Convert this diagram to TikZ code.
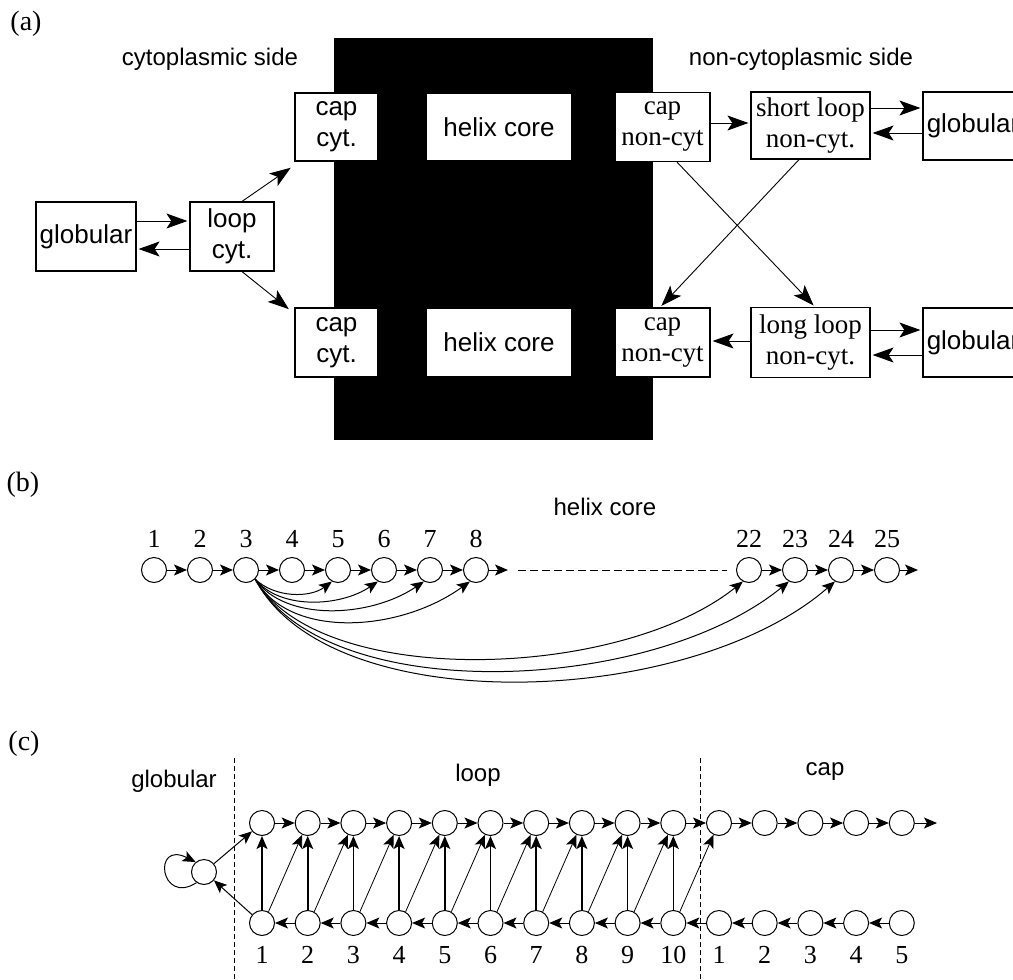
\documentclass[tikz,border=0pt]{standalone}
\usepackage{fontspec}
\setmainfont{Liberation Serif}
\setsansfont{Liberation Sans}
\usetikzlibrary{arrows.meta}
\newcommand{\hmmSans}{\fontsize{26}{31}\selectfont\sffamily}
\newcommand{\hmmSerif}{\fontsize{27}{31}\selectfont\rmfamily}

\begin{document}
\begin{tikzpicture}[x=1pt,y=-1pt,
  statebox/.style={draw, line width=1.2pt, fill=white, inner sep=0pt, align=center},
  bigtip/.style={-{Stealth[length=21pt,width=15pt,inset=5pt]}, line width=0.9pt, shorten >=2pt},
  smalltip/.style={-{Stealth[length=13pt,width=11pt,inset=3pt]}, line width=1pt},
  res/.style={circle, draw, line width=1pt, minimum size=25pt, inner sep=0pt},
  lbl/.style={anchor=base, inner sep=0pt, font=\fontsize{24}{28}\selectfont\sffamily},
  num/.style={anchor=base, inner sep=0pt, font=\fontsize{26}{28}\selectfont}]
\useasboundingbox (0,0) rectangle (1013,980);
\clip (0,0) rectangle (1013,980);
\node[num, font=\fontsize{28}{30}\selectfont] (pa) at (26,30) {(a)};
\node[lbl] (cytside) at (210,65) {cytoplasmic side};
\node[lbl] (noncytside) at (801,65) {non-cytoplasmic side};
\fill (334,38) rectangle (653,440);
\node[statebox, font=\hmmSans, minimum width=100pt, minimum height=69pt] (globL) at (86,236.5) {globular};
\node[statebox, font=\hmmSans, minimum width=84pt, minimum height=69pt] (loopc) at (232,236.5) {loop\\cyt.};
\node[statebox, font=\hmmSans, minimum width=83pt, minimum height=68pt] (capcT) at (336.5,127) {cap\\cyt.};
\node[statebox, font=\hmmSans, minimum width=146pt, minimum height=68pt] (helixT) at (499,127) {helix core};
\node[statebox, font=\hmmSerif, minimum width=95pt, minimum height=69pt] (capnT) at (662.5,127) {cap\\non-cyt};
\node[statebox, font=\hmmSerif, minimum width=119pt, minimum height=67pt] (shortT) at (810.5,125.5) {short loop\\non-cyt.};
\node[statebox, font=\hmmSans, minimum width=100pt, minimum height=68pt] (globRT) at (973,126) {globular};
\node[statebox, font=\hmmSans, minimum width=83pt, minimum height=69pt] (capcB) at (336.5,342.5) {cap\\cyt.};
\node[statebox, font=\hmmSans, minimum width=146pt, minimum height=69pt] (helixB) at (499,342.5) {helix core};
\node[statebox, font=\hmmSerif, minimum width=95pt, minimum height=69pt] (capnB) at (662.5,342.5) {cap\\non-cyt};
\node[statebox, font=\hmmSerif, minimum width=119pt, minimum height=70pt] (longB) at (810.5,342.5) {long loop\\non-cyt.};
\node[statebox, font=\hmmSans, minimum width=100pt, minimum height=69pt] (globRB) at (973,342.5) {globular};
\draw[bigtip] ([yshift=15.5pt]globL.east) -- ([yshift=15.5pt]globL.east -| loopc.west);
\draw[bigtip] ([yshift=-12.5pt]loopc.west) -- ([yshift=-12.5pt]loopc.west -| globL.east);
\draw[bigtip] ([xshift=10pt]loopc.north) -- ([shift={(-2pt,-5pt)}]capcT.south west);
\draw[bigtip] ([xshift=10pt]loopc.south) -- ([shift={(-4pt,-3pt)}]capcB.north west);
\draw[bigtip] ([yshift=4pt]capnT.east) -- ([yshift=4pt]capnT.east -| shortT.west);
\draw[bigtip] ([yshift=17.5pt]shortT.east) -- ([yshift=17.5pt]shortT.east -| globRT.west);
\draw[bigtip] ([yshift=-7pt]globRT.west) -- ([yshift=-7pt]globRT.west -| shortT.east);
\draw[bigtip] ([yshift=1.5pt]longB.west) -- ([yshift=1.5pt]longB.west -| capnB.east);
\draw[bigtip] ([yshift=12.5pt]longB.east) -- ([yshift=12.5pt]longB.east -| globRB.west);
\draw[bigtip] ([yshift=-12.5pt]globRB.west) -- ([yshift=-12.5pt]globRB.west -| longB.east);
\draw[bigtip] ([xshift=14.5pt]capnT.south) -- ([xshift=4.5pt]longB.north);
\draw[bigtip] ([xshift=-11.5pt]shortT.south) -- ([xshift=-2.5pt]capnB.north);
\node[num, font=\fontsize{28}{30}\selectfont] (pb) at (23,491) {(b)};
\node[lbl] (helixlbl) at (605,515) {helix core};
\foreach \n/\x in {1/154,2/200,3/246,4/292,5/338,6/384,7/430,8/476,22/749,23/795,24/841,25/887}{
  \node[res] (h\n) at (\x,570) {};
  \node[num] (hl\n) at (\x,547) {\n};
}
\foreach \a/\b in {1/2,2/3,3/4,4/5,5/6,6/7,7/8,22/23,23/24,24/25}
  \draw[smalltip] (h\a) -- (h\b);
\coordinate (hout8) at (508,570);
\coordinate (hout25) at (918,570);
\coordinate (gapL) at (518,570);
\coordinate (gapR) at (727,570);
\draw[smalltip] (h8) -- (hout8);
\draw[smalltip] (h25) -- (hout25);
\draw[line width=1pt, dash pattern=on 8pt off 4pt] (gapL) -- (gapR);
\draw[smalltip] (h3.-45) .. controls (275,598) and (310,598) .. (h5.-118);
\draw[smalltip] (h3.-45) .. controls (280,610) and (340,607) .. (h6.-118);
\draw[smalltip] (h3.-45) .. controls (285,622) and (370,618) .. (h7.-118);
\draw[smalltip] (h3.-45) .. controls (290,640) and (400,632) .. (h8.-118);
\draw[smalltip] (h3.-45) .. controls (320,690) and (620,680) .. (h22.-118);
\draw[smalltip] (h3.-45) .. controls (325,707) and (650,695) .. (h23.-118);
\draw[smalltip] (h3.-45) .. controls (330,722) and (690,708) .. (h24.-118);
\node[num, font=\fontsize{28}{30}\selectfont] (pc) at (24,750) {(c)};
\node[lbl] (globlbl) at (174,787) {globular};
\node[lbl] (looplbl) at (478,781) {loop};
\node[lbl] (caplbl) at (825,775) {cap};
\coordinate (sepA1) at (234,758);
\coordinate (sepA2) at (234,980);
\coordinate (sepB1) at (700,758);
\coordinate (sepB2) at (700,980);
\draw[line width=1pt, dash pattern=on 5pt off 3pt] (sepA1) -- (sepA2);
\draw[line width=1pt, dash pattern=on 5pt off 3pt] (sepB1) -- (sepB2);
\foreach \i/\lab [evaluate=\i as \x using 262+45.7*(\i-1)] in {1/1,2/2,3/3,4/4,5/5,6/6,7/7,8/8,9/9,10/10,11/1,12/2,13/3,14/4,15/5}{
  \node[res] (t\i) at (\x,823) {};
  \node[res] (b\i) at (\x,923) {};
  \node[num] (bl\i) at (\x,963) {\lab};
}
\node[res] (gc) at (204,872) {};
\foreach \i [evaluate=\i as \j using int(\i+1)] in {1,...,14}{
  \draw[smalltip] (t\i) -- (t\j);
  \draw[smalltip] (b\j) -- (b\i);
}
\foreach \i [evaluate=\i as \j using int(\i+1)] in {1,...,10}{
  \draw[smalltip, line width=1.6pt] (b\i) -- (t\i);
  \draw[smalltip, line width=0.8pt] (b\i.60) -- (t\j.-115);
}
\coordinate (tout) at (937,823);
\draw[smalltip] (t15) -- (tout);
\draw[smalltip] (gc.40) -- (t1.-140);
\draw[smalltip] (b1.140) -- (gc.-40);
\draw[smalltip] (gc.235) .. controls (160,906) and (152,840) .. (gc.130);
\end{tikzpicture}
\end{document}
